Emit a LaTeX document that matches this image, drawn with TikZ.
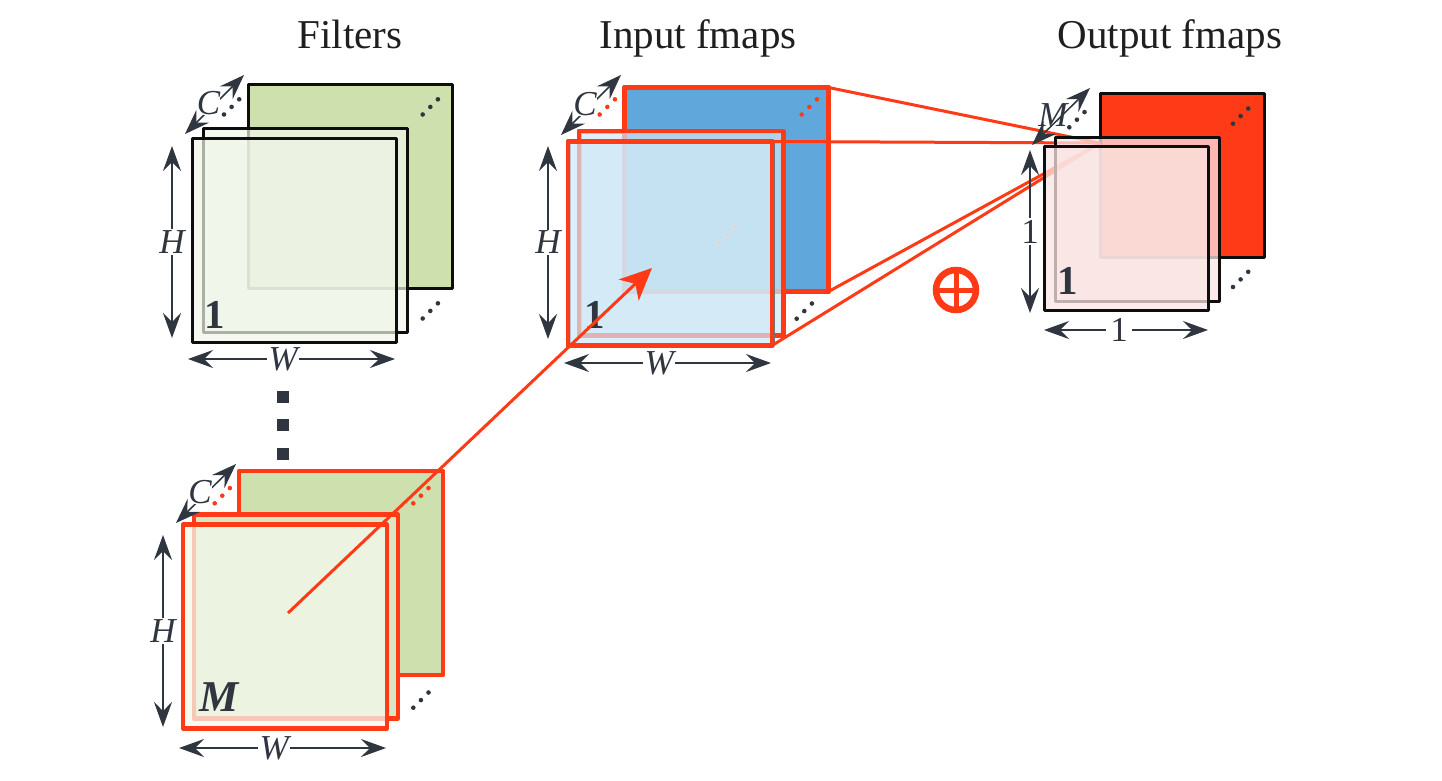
\documentclass[tikz,border=0pt]{standalone}
\usepackage{fontspec}
\setmainfont{Liberation Serif}
\usetikzlibrary{arrows.meta}
\definecolor{ink}{HTML}{2F3640}
\definecolor{hot}{HTML}{FF3A17}
\definecolor{leaf}{HTML}{CEE0AD}
\definecolor{leafmid}{HTML}{D9E6C3}
\definecolor{leafpale}{HTML}{F0F5E8}
\definecolor{leaftop}{HTML}{F5F8EC}
\definecolor{sky}{HTML}{60A8DB}
\definecolor{skypale}{HTML}{D0E8F6}
\definecolor{rosepale}{HTML}{FAE4E3}
\tikzset{
    sheet/.style = {rectangle, inner sep=0pt, outer sep=0pt, line width=3pt, line join=round},
    sheet_big/.style = {sheet, minimum size=204pt},
    sheet_small/.style = {sheet, minimum size=164pt, draw=black!95},
    sheet_hot/.style = {sheet_big, draw=hot, line width=4.2pt},
    hot_edge/.style = {preaction={draw=ink!70, line width=5pt}},
    leaf_top/.style = {fill=leafpale, fill opacity=0.7},
    sky_top/.style = {fill=skypale, fill opacity=0.7},
    rose_top/.style = {fill=rosepale, fill opacity=0.75},
    title_text/.style = {anchor=base, font=\fontsize{41}{43}\selectfont, text=black!88},
    dim_line/.style = {draw=ink, line width=1.5pt, {Stealth[length=25pt,width=18pt,inset=9pt]}-{Stealth[length=25pt,width=18pt,inset=9pt]}},
    dim_label/.style = {fill=white, inner sep=1.5pt, text=ink, font=\fontsize{35}{37}\selectfont},
    sheet_num/.style = {text=ink, inner sep=0pt, font=\fontsize{41}{43}\selectfont\bfseries},
    hot_line/.style = {draw=hot, line width=3pt}
}
% three dots running up to the right
\newcommand{\sheetdots}[3]{\foreach \i in {0,1,2} \fill[#3] (#1+7.6*\i,#2-7.6*\i) circle (2.3pt);}
\begin{document}
\begin{tikzpicture}[x=1pt, y=-1pt]
    \useasboundingbox (0,0) rectangle (1442,780);

    \node [title_text] (filters_title) at (350,48) {Filters};
    \node [title_text] (input_title) at (698,48) {Input fmaps};
    \node [title_text] (output_title) at (1170,48) {Output fmaps};

    % filters, first stack
    \node [sheet_big, draw=black!95, fill=leaf] (f_back) at (350,186) {};
    \node [sheet_big, draw=black!95, leaf_top] (f_mid) at (305,230) {};
    \node [sheet_big, draw=black!95, leaf_top] (f_front) at (294,240) {};
    \node [sheet_num] (f_num) at (215,315) {1};
    \sheetdots{224}{114.5}{ink}
    \sheetdots{422.7}{114.5}{ink}
    \sheetdots{422.7}{318.5}{ink}
    \coordinate (f_c_a) at (185,134);
    \coordinate (f_c_b) at (244,75);
    \coordinate (f_h_a) at (172,146);
    \coordinate (f_h_b) at (172,338);
    \coordinate (f_w_a) at (188,359);
    \coordinate (f_w_b) at (395,359);
    \draw [dim_line] (f_c_a) -- node [dim_label, pos=0.4, inner sep=0pt, yshift=7pt] (f_c) {\itshape C} (f_c_b);
    \draw [dim_line] (f_h_a) -- node [dim_label] (f_h) {\itshape H} (f_h_b);
    \draw [dim_line] (f_w_a) -- node [dim_label, pos=0.46] (f_w) {\itshape W} (f_w_b);

    % between the two filter stacks
    \foreach \y [count=\n] in {396.5,425,454}
        \node [rectangle, fill=ink, minimum size=12pt, inner sep=0pt] (gap\n) at (283,\y) {};

    % filters, last stack
    \node [sheet_hot, fill=leaf] (m_back) at (341,573) {};
    \node [sheet_hot, fill=leafmid] (m_mid) at (296,616.5) {};
    \node [sheet_hot, fill=leaftop, fill opacity=0.75] (m_front) at (285,626.5) {};
    \node [sheet_num, font=\fontsize{44}{46}\selectfont\bfseries\itshape] (m_num) at (219,697) {M};
    \sheetdots{214.7}{503.3}{hot}
    \sheetdots{413.3}{503.3}{hot}
    \sheetdots{413.3}{707.7}{ink}
    \coordinate (m_c_a) at (176,523);
    \coordinate (m_c_b) at (236,464);
    \coordinate (m_h_a) at (163,535);
    \coordinate (m_h_b) at (163,727);
    \coordinate (m_w_a) at (179,748);
    \coordinate (m_w_b) at (386,748);
    \draw [dim_line] (m_c_a) -- node [dim_label, pos=0.4, inner sep=0pt, yshift=7pt] (m_c) {\itshape C} (m_c_b);
    \draw [dim_line] (m_h_a) -- node [dim_label] (m_h) {\itshape H} (m_h_b);
    \draw [dim_line] (m_w_a) -- node [dim_label, pos=0.46] (m_w) {\itshape W} (m_w_b);

    % input fmaps
    \node [sheet_hot, hot_edge, fill=sky] (in_back) at (726.5,189.5) {};
    \node [sheet_hot, hot_edge, sky_top] (in_mid) at (681,233) {};
    \node [sheet_hot, hot_edge, sky_top] (in_front) at (670,243.5) {};
    \node [sheet_num] (in_num) at (595,315) {1};
    \sheetdots{599.7}{114.5}{hot}
    \sheetdots{801.7}{114.5}{hot}
    \sheetdots{796.7}{318.7}{ink}
    \foreach \x/\y in {718.7/243,726.7/235,734.7/227}
        \draw [draw=white!85!ink, fill=white!80!ink, fill opacity=0.6, line width=0.6pt] (\x,\y-3.6) -- (\x+3.6,\y) -- (\x,\y+3.6) -- (\x-3.6,\y) -- cycle;
    \coordinate (in_c_a) at (561,135);
    \coordinate (in_c_b) at (621,75);
    \coordinate (in_h_a) at (548,146);
    \coordinate (in_h_b) at (548,339);
    \coordinate (in_w_a) at (564,363);
    \coordinate (in_w_b) at (771,363);
    \draw [dim_line] (in_c_a) -- node [dim_label, pos=0.4, inner sep=0pt, yshift=7pt] (in_c) {\itshape C} (in_c_b);
    \draw [dim_line] (in_h_a) -- node [dim_label] (in_h) {\itshape H} (in_h_b);
    \draw [dim_line] (in_w_a) -- node [dim_label, pos=0.46] (in_w) {\itshape W} (in_w_b);

    % output fmaps
    \node [sheet_small, fill=hot] (out_back) at (1182,175) {};
    \coordinate (out_focus) at (1100,143);
    \draw [hot_line] (in_back.north east) -- (out_focus);
    \draw [hot_line] (in_front.north east) -- (out_focus);
    \draw [hot_line] (in_back.south east) -- (out_focus);
    \draw [hot_line] (in_front.south east) -- (out_focus);
    \node [sheet_small, rose_top] (out_mid) at (1137.5,219) {};
    \node [sheet_small, rose_top] (out_front) at (1126,228.5) {};
    \node [sheet_num] (out_num) at (1068,281) {1};
    \sheetdots{1069.3}{127.3}{ink}
    \sheetdots{1233}{123.7}{ink}
    \sheetdots{1233}{287}{ink}
    \coordinate (out_m_a) at (1032,145);
    \coordinate (out_m_b) at (1090,88);
    \coordinate (out_h_a) at (1030,150);
    \coordinate (out_h_b) at (1030,313);
    \coordinate (out_w_a) at (1044,330);
    \coordinate (out_w_b) at (1208,330);
    \draw [dim_line] (out_m_a) -- node [dim_label, pos=0.36, inner sep=0pt, fill=none, yshift=9pt] (out_m) {\itshape M} (out_m_b);
    \draw [dim_line] (out_h_a) -- node [dim_label] (out_h) {1} (out_h_b);
    \draw [dim_line] (out_w_a) -- node [dim_label, inner sep=4pt, xshift=-7pt] (out_w) {1} (out_w_b);

    \node [circle, draw=hot, line width=6.5pt, minimum size=40pt, inner sep=0pt] (plus) at (956,290) {};
    \draw [draw=hot, line width=5pt] (plus.north) -- (plus.south);
    \draw [draw=hot, line width=5pt] (plus.west) -- (plus.east);

    % slide of the filter over the input
    \coordinate (kernel_mid) at (288,613);
    \coordinate (input_hit) at (652,268);
    \draw [hot_line, -{Stealth[length=32pt,width=29pt,inset=9pt]}] (kernel_mid) -- (input_hit);
\end{tikzpicture}
\end{document}
